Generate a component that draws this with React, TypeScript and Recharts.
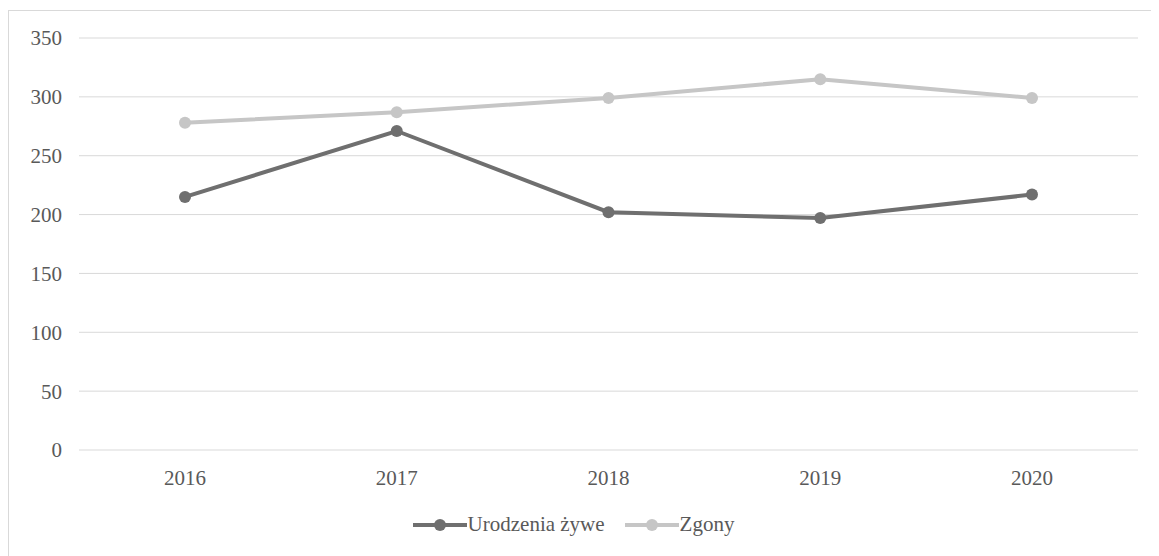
import React from 'react';
import { LineChart, Line, XAxis, YAxis, CartesianGrid, Legend } from 'recharts';

const YEARS = ['2016', '2017', '2018', '2019', '2020'];
const BIRTHS = [215, 271, 202, 197, 217];
const DEATHS = [278, 287, 299, 315, 299];
const Y_TICKS = [0, 50, 100, 150, 200, 250, 300, 350];

const DARK = '#6f6f6f';
const LIGHT = '#c6c6c6';
const FONT = 'Liberation Serif, Times New Roman, serif';

const data = YEARS.map((year, i) => ({ year, births: BIRTHS[i], deaths: DEATHS[i] }));

const LegendIcon = ({ color }: { color: string }) => (
  <svg width={54} height={16} style={{ display: 'block' }}>
    <line x1={0} y1={8} x2={54} y2={8} stroke={color} strokeWidth={4} />
    <circle cx={27} cy={8} r={6} fill={color} />
  </svg>
);

const CustomLegend = () => (
  <div
    style={{
      display: 'flex',
      justifyContent: 'center',
      alignItems: 'center',
      gap: 20,
      fontFamily: FONT,
      fontSize: 21,
      color: '#595959',
    }}
  >
    <div style={{ display: 'flex', alignItems: 'center', gap: 1 }}>
      <LegendIcon color={DARK} />
      <span>Urodzenia żywe</span>
    </div>
    <div style={{ display: 'flex', alignItems: 'center', gap: 1 }}>
      <LegendIcon color={LIGHT} />
      <span>Zgony</span>
    </div>
  </div>
);

export default function App() {
  return (
    <div
      style={{
        marginTop: 2,
        width: 1151,
        height: 546,
        borderLeft: '1px solid #d9d9d9',
        borderTop: '1px solid #d9d9d9',
        background: '#fff',
        fontFamily: FONT,
      }}
    >
      <LineChart
        width={1150}
        height={545}
        data={data}
        margin={{ top: 27, right: 21, left: 0, bottom: 4 }}
      >
        <CartesianGrid vertical={false} stroke="#d9d9d9" strokeWidth={1} />
        <XAxis
          dataKey="year"
          axisLine={false}
          tickLine={false}
          tickSize={0}
          tickMargin={20}
          height={62}
          padding={{ left: 106, right: 106 }}
          tick={{ fontSize: 21, fill: '#595959', fontFamily: FONT }}
        />
        <YAxis
          domain={[0, 350]}
          ticks={Y_TICKS}
          axisLine={false}
          tickLine={false}
          tickSize={0}
          tickMargin={17}
          width={70}
          tick={{ fontSize: 21, fill: '#595959', fontFamily: FONT }}
        />
        <Legend verticalAlign="bottom" height={40} content={<CustomLegend />} />
        <Line
          type="linear"
          dataKey="deaths"
          name="Zgony"
          stroke={LIGHT}
          strokeWidth={4}
          dot={{ r: 6, fill: LIGHT, stroke: LIGHT, strokeWidth: 0 }}
          isAnimationActive={false}
        />
        <Line
          type="linear"
          dataKey="births"
          name="Urodzenia żywe"
          stroke={DARK}
          strokeWidth={4}
          dot={{ r: 6, fill: DARK, stroke: DARK, strokeWidth: 0 }}
          isAnimationActive={false}
        />
      </LineChart>
    </div>
  );
}
